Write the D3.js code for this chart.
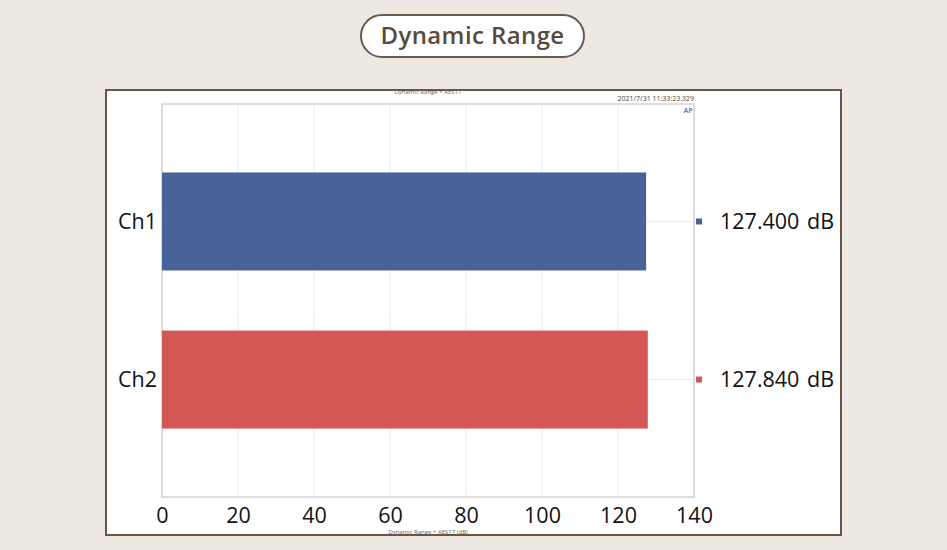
<!DOCTYPE html>
<html><head><meta charset="utf-8">
<script src="https://cdn.jsdelivr.net/npm/d3@7"></script>
<style>
html,body{margin:0;padding:0;background:#ede9e2;}
svg{display:block;}
</style></head>
<body>
<svg id="chart" width="947" height="550"></svg>
<script>
const categories = ["Ch1", "Ch2"];
const values = [127.400, 127.840];
const valueLabels = ["127.400 dB", "127.840 dB"];
const colors = ["#48629a", "#d35754"];
const xTicks = [0, 20, 40, 60, 80, 100, 120, 140];
const title = "Dynamic Range";
const subTitle = "Dynamic Range + AES17";
const timestamp = "2021/7/31 11:33:23.329";
const axisTitle = "Dynamic Range + AES17 (dB)";

const svg = d3.select("#chart");
const font = "'Open Sans','Noto Sans',sans-serif";

// Title pill
svg.append("rect").attr("x", 361).attr("y", 15).attr("width", 223).attr("height", 42)
  .attr("rx", 21).attr("fill", "#fff").attr("stroke", "#6a5a4a").attr("stroke-width", 2);
svg.append("text").attr("x", 472.5).attr("y", 44).attr("text-anchor", "middle")
  .attr("font-family", font).attr("font-weight", 600).attr("font-size", 24)
  .attr("letter-spacing", 0.4)
  .attr("fill", "#5a4a3c").text(title);

// Outer frame
svg.append("rect").attr("x", 106).attr("y", 90).attr("width", 735).attr("height", 445)
  .attr("fill", "#fff").attr("stroke", "#6a5646").attr("stroke-width", 2);

const m = {left: 162, right: 694, top: 104, bottom: 497};
const x = d3.scaleLinear().domain([0, 140]).range([m.left, m.right]);
const y = d3.scaleBand().domain(categories).range([m.top, m.bottom])
  .paddingInner(0.38).paddingOuter(0.433);

// grid
const g = svg.append("g");
g.selectAll(".vg").data(xTicks).join("line")
  .attr("x1", d => x(d)).attr("x2", d => x(d)).attr("y1", m.top).attr("y2", m.bottom)
  .attr("stroke", "#ececec").attr("stroke-width", 1);
g.selectAll(".hg").data(categories).join("line")
  .attr("x1", m.left).attr("x2", m.right)
  .attr("y1", d => y(d) + y.bandwidth() / 2).attr("y2", d => y(d) + y.bandwidth() / 2)
  .attr("stroke", "#ececec").attr("stroke-width", 1);

// plot border
svg.append("rect").attr("x", m.left).attr("y", m.top).attr("width", m.right - m.left)
  .attr("height", m.bottom - m.top).attr("fill", "none").attr("stroke", "#d4d4d4").attr("stroke-width", 1.5);

// bars
svg.selectAll(".bar").data(categories).join("rect")
  .attr("x", x(0)).attr("y", d => y(d))
  .attr("width", (d, i) => x(values[i]) - x(0)).attr("height", y.bandwidth())
  .attr("fill", (d, i) => colors[i]);

// category labels
svg.selectAll(".cat").data(categories).join("text")
  .attr("x", 157).attr("y", d => y(d) + y.bandwidth() / 2).attr("dy", "0.35em")
  .attr("text-anchor", "end").attr("font-family", font).attr("font-size", 21.5)
  .attr("fill", "#111").text(d => d);

// value markers & labels
svg.selectAll(".mk").data(categories).join("rect")
  .attr("x", 696).attr("y", d => y(d) + y.bandwidth() / 2 - 3)
  .attr("width", 6).attr("height", 6).attr("fill", (d, i) => colors[i]);
svg.selectAll(".vl").data(categories).join("text")
  .attr("x", 720).attr("y", d => y(d) + y.bandwidth() / 2).attr("dy", "0.35em")
  .attr("font-family", font).attr("font-size", 21.5).attr("word-spacing", 2).attr("fill", "#111")
  .text((d, i) => valueLabels[i]);

// x axis
const xAxis = d3.axisBottom(x).tickValues(xTicks).tickSize(0).tickPadding(11);
const ax = svg.append("g").attr("transform", `translate(0,${m.bottom})`).call(xAxis);
ax.select(".domain").remove();
ax.selectAll("text").attr("font-family", font).attr("font-size", 21.5).attr("fill", "#111");

// small texts
svg.append("text").attr("x", 428).attr("y", 94).attr("text-anchor", "middle")
  .attr("font-family", font).attr("font-size", 6).attr("fill", "#666").text(subTitle);
svg.append("text").attr("x", 694).attr("y", 101).attr("text-anchor", "end")
  .attr("font-family", font).attr("font-size", 7).attr("fill", "#444").text(timestamp);
svg.append("text").attr("x", 688).attr("y", 113).attr("text-anchor", "middle")
  .attr("font-family", font).attr("font-size", 7).attr("font-weight", 700).attr("fill", "#5b8fc9").text("AP");
svg.append("text").attr("x", 428).attr("y", 534).attr("text-anchor", "middle")
  .attr("font-family", font).attr("font-size", 6).attr("fill", "#666").text(axisTitle);
</script>
</body></html>
